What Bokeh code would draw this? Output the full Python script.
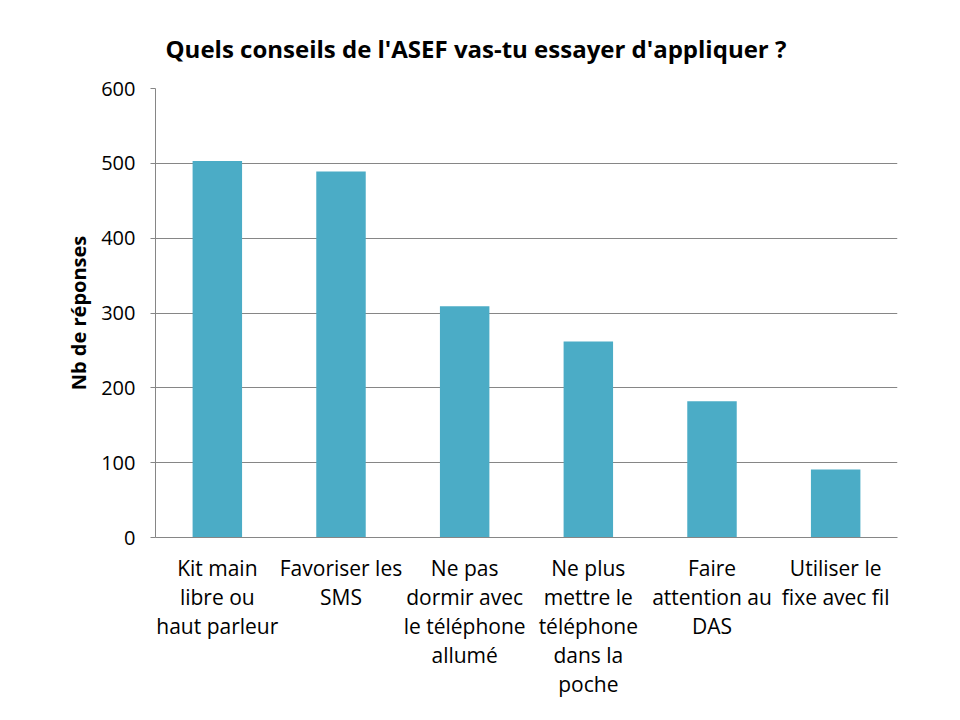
from bokeh.plotting import figure
from bokeh.models import FactorRange, Range1d, FixedTicker, Title
from bokeh.embed import file_html
from bokeh.resources import INLINE

categories = [
    "Kit main\nlibre ou\nhaut parleur",
    "Favoriser les\nSMS",
    "Ne pas\ndormir avec\nle téléphone\nallumé",
    "Ne plus\nmettre le\ntéléphone\ndans la\npoche",
    "Faire\nattention au\nDAS",
    "Utiliser le\nfixe avec fil",
]
values = [503, 489, 309, 262, 182, 91]
y_ticks = [0, 100, 200, 300, 400, 500, 600]

FONT = "Open Sans"

p = figure(
    width=960, height=720,
    x_range=FactorRange(*categories, range_padding=0),
    y_range=Range1d(0, 600),
    output_backend="svg", toolbar_location=None,
    min_border_left=155, min_border_right=63,
    min_border_top=88, min_border_bottom=183,
)
p.title = None
t = Title(text="Quels conseils de l'ASEF vas-tu essayer d'appliquer ?",
          align="left", offset=10, standoff=47,
          text_font=FONT, text_font_size="24px", text_font_style="bold",
          text_color="black")
p.add_layout(t, "above")

p.vbar(x=categories, top=values, width=0.4, color="#4BACC6", line_color=None)

p.outline_line_color = None
p.xgrid.grid_line_color = None
p.ygrid.grid_line_color = "#868686"
p.ygrid.ticker = FixedTicker(ticks=y_ticks)

p.yaxis.ticker = FixedTicker(ticks=y_ticks)
p.yaxis.axis_line_color = "#868686"
p.yaxis.major_tick_line_color = "#868686"
p.yaxis.major_tick_out = 5
p.yaxis.major_tick_in = 0
p.yaxis.minor_tick_line_color = None
p.yaxis.major_label_text_font = FONT
p.yaxis.major_label_text_font_size = "20px"
p.yaxis.major_label_text_color = "black"
p.yaxis.major_label_standoff = 15
p.yaxis.axis_label = "Nb de réponses"
p.yaxis.axis_label_text_font = FONT
p.yaxis.axis_label_text_font_size = "20px"
p.yaxis.axis_label_text_font_style = "bold"
p.yaxis.axis_label_text_color = "black"
p.yaxis.axis_label_standoff = 6

p.xaxis.axis_line_color = "#868686"
p.xaxis.major_tick_line_color = None
p.xaxis.minor_tick_line_color = None
p.xaxis.major_label_text_font = FONT
p.xaxis.major_label_text_font_size = "21px"
p.xaxis.major_label_text_color = "black"
p.xaxis.major_label_text_line_height = 1.04
p.xaxis.major_label_standoff = 10

open("out.html", "w").write(file_html(p, INLINE))
